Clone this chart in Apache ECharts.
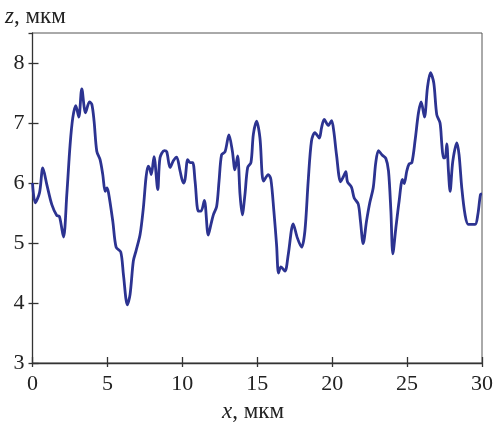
<!DOCTYPE html>
<html>
<head>
<meta charset="utf-8">
<script src="https://cdn.jsdelivr.net/npm/echarts@6/dist/echarts.min.js"></script>
<style>
  html, body { margin: 0; padding: 0; background: #fff; }
  #chart { width: 498px; height: 426px; }
</style>
</head>
<body>
<div id="chart"></div>
<script>
// profile z(x)
const xValues = [0, 0.18, 0.47, 0.69, 0.96, 1.29, 1.62, 1.8, 2.07, 2.29, 2.51, 2.69, 2.89, 3.09, 3.29, 3.54, 3.8, 3.96, 4.11, 4.29,
  4.51, 4.69, 4.85, 4.96, 5.07, 5.36, 5.58, 5.89, 6.07, 6.33, 6.51, 6.73, 6.91, 7.18, 7.4, 7.58, 7.72, 7.82, 7.93, 8.11,
  8.36, 8.51, 8.8, 8.96, 9.18, 9.4, 9.62, 9.85, 10.07, 10.18, 10.36, 10.51, 10.69, 10.85, 11.07, 11.25, 11.47, 11.73, 11.91, 12.07,
  12.29, 12.45, 12.62, 12.85, 13.11, 13.34, 13.51, 13.69, 13.85, 14.0, 14.18, 14.36, 14.58, 14.74, 14.96, 15.18, 15.42, 15.74, 15.91, 16.11,
  16.29, 16.42, 16.58, 16.85, 17.07, 17.4, 17.67, 17.96, 18.18, 18.4, 18.62, 18.85, 19.14, 19.29, 19.47, 19.74, 19.96, 20.11, 20.29, 20.56,
  20.74, 20.91, 21.02, 21.29, 21.47, 21.74, 21.89, 22.07, 22.29, 22.51, 22.74, 22.91, 23.09, 23.32, 23.58, 23.76, 23.92, 24.05, 24.25, 24.47,
  24.69, 24.81, 24.98, 25.14, 25.32, 25.54, 25.76, 25.94, 26.16, 26.36, 26.56, 26.78, 26.98, 27.2, 27.32, 27.43, 27.54, 27.65, 27.76, 27.87,
  28.05, 28.32, 28.47, 28.65, 28.87, 29.09, 29.54, 29.72, 29.9, 30];
const zValues = [6.0, 5.67, 5.84, 6.25, 5.97, 5.64, 5.46, 5.44, 5.1, 5.81, 6.64, 7.09, 7.29, 7.1, 7.57, 7.17, 7.35, 7.31, 7.03, 6.53,
  6.39, 6.14, 5.86, 5.92, 5.84, 5.36, 4.93, 4.85, 4.47, 3.97, 4.14, 4.7, 4.87, 5.14, 5.59, 6.1, 6.28, 6.24, 6.14, 6.44,
  5.89, 6.42, 6.54, 6.52, 6.26, 6.37, 6.43, 6.2, 6.0, 6.06, 6.39, 6.34, 6.34, 6.03, 5.53, 5.53, 5.71, 5.13, 5.31, 5.47,
  5.61, 6.03, 6.47, 6.52, 6.8, 6.53, 6.22, 6.45, 5.81, 5.47, 5.81, 6.26, 6.34, 6.81, 7.03, 6.75, 6.03, 6.14, 6.06, 5.53,
  4.97, 4.5, 4.6, 4.53, 4.81, 5.32, 5.09, 4.93, 5.2, 6.03, 6.7, 6.84, 6.75, 6.92, 7.06, 6.96, 7.04, 6.86, 6.47, 6.02,
  6.1, 6.19, 6.02, 5.93, 5.75, 5.65, 5.36, 4.99, 5.36, 5.67, 5.92, 6.34, 6.54, 6.47, 6.41, 6.2, 5.53, 4.82, 5.25, 5.7,
  6.06, 5.99, 6.2, 6.32, 6.34, 6.72, 7.17, 7.35, 7.1, 7.59, 7.84, 7.67, 7.14, 7.0, 6.64, 6.42, 6.42, 6.65, 6.2, 5.86,
  6.36, 6.67, 6.47, 5.92, 5.47, 5.31, 5.31, 5.47, 5.81, 5.82];

const xTicks = [0, 5, 10, 15, 20, 25, 30];
const zTicks = [3, 4, 5, 6, 7, 8];

const serif = '"Liberation Serif", "DejaVu Serif", serif';
const ink = '#333';

const chart = echarts.init(document.getElementById('chart'));

const lineData = xValues.map((x, i) => [x, zValues[i]]);

// ticks cross the axis: one axis draws the inner half, a second one the outer half
function xAxisOf(inside, showLabels) {
  return {
    type: 'value',
    min: xTicks[0],
    max: xTicks[xTicks.length - 1],
    interval: xTicks[1] - xTicks[0],
    position: 'bottom',
    axisLine: { show: showLabels, lineStyle: { color: ink, width: 1.3 } },
    axisTick: { show: true, inside: inside, length: inside ? 6 : 4, lineStyle: { color: ink, width: 1.3 } },
    axisLabel: { show: showLabels, margin: 10, color: '#222', fontFamily: serif, fontSize: 22 },
    splitLine: { show: false }
  };
}
function yAxisOf(inside, showLabels) {
  return {
    type: 'value',
    min: zTicks[0],
    max: 8.5,
    interval: 1,
    position: 'left',
    axisLine: { show: showLabels, lineStyle: { color: ink, width: 1.3 } },
    axisTick: { show: true, inside: inside, length: inside ? 6 : 4, lineStyle: { color: ink, width: 1.3 } },
    axisLabel: { show: showLabels, showMaxLabel: false, margin: 8, color: '#222', fontFamily: serif, fontSize: 22 },
    splitLine: { show: false }
  };
}

const option = {
  backgroundColor: '#fff',
  animation: false,
  grid: {
    left: 32.5, right: 16, top: 33, bottom: 63,
    show: true, borderColor: '#555', borderWidth: 1
  },
  xAxis: [xAxisOf(true, true), xAxisOf(false, false)],
  yAxis: [yAxisOf(true, true), yAxisOf(false, false)],
  graphic: [
    {
      type: 'text', left: 5, top: 5,
      style: {
        text: '{i|z}, мкм',
        fontFamily: serif, fontSize: 23, fill: '#222',
        rich: { i: { fontStyle: 'italic', fontFamily: serif, fontSize: 23 } }
      }
    },
    {
      type: 'text', left: 222, top: 400,
      style: {
        text: '{i|x}, мкм',
        fontFamily: serif, fontSize: 23, fill: '#222',
        rich: { i: { fontStyle: 'italic', fontFamily: serif, fontSize: 23 } }
      }
    }
  ],
  series: [
    {
      type: 'line',
      xAxisIndex: 0,
      yAxisIndex: 0,
      data: lineData,
      smooth: 0.3,
      showSymbol: false,
      lineStyle: { color: '#2c3391', width: 2.8 }
    }
  ]
};

chart.setOption(option);
</script>
</body>
</html>
